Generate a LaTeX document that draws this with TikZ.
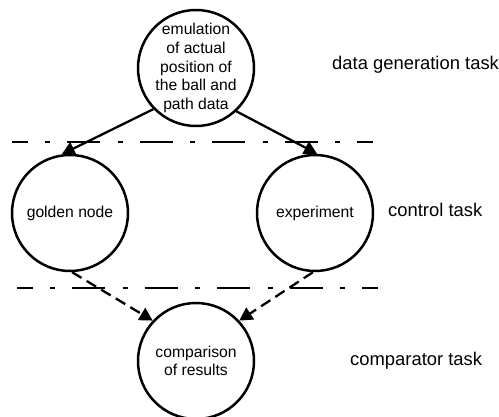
\documentclass[tikz,border=0pt]{standalone}
\usepackage{fontspec}
\setmainfont{Liberation Sans}
\usetikzlibrary{arrows.meta}
\begin{document}
\begin{tikzpicture}[x=1pt,y=-1pt,
  task/.style={circle,draw,line width=2.5pt,minimum size=116pt,inner sep=-8pt,
    align=center,font=\fontsize{15.7}{18.7}\selectfont},
  tasklabel/.style={anchor=base west,inner sep=0pt,font=\fontsize{18.4}{22}\selectfont},
  flow/.style={line width=2.3pt,-{Triangle[length=13pt,width=14pt]}},
  result/.style={flow,dash pattern=on 11pt off 6pt},
  divider/.style={line width=1.6pt,dash pattern=on 33pt off 17.5pt on 5pt off 17pt,dash phase=17.5pt}]
\useasboundingbox (0,0) rectangle (499,417);
\clip (0,0) rectangle (499,417);

% task nodes
\node[task] (emu) at (196,68) {emulation\\of actual\\position of\\the ball and\\path data};
\node[task] (golden) at (70,213) {golden node};
\node[task] (exper) at (315,213) {experiment};
\node[task] (cmp) at (196,361) {comparison\\of results};

% task level labels
\node[tasklabel] (lgen) at (332,70) {data generation task};
\node[tasklabel] (lctl) at (388,217) {control task};
\node[tasklabel] (lcmp) at (350,366) {comparator task};

% level dividers
\coordinate (d1a) at (12,142);
\coordinate (d1b) at (373,142);
\coordinate (d2a) at (17,288);
\coordinate (d2b) at (378,288);
\draw[divider] (d1a) -- (d1b);
\draw[divider] (d2a) -- (d2b);

% data flow
\draw[flow] (emu.224) -- (golden.98);
\draw[flow] (emu.313) -- (exper.88);
\draw[result] (golden.-88) -- (cmp.137);
\draw[result] (exper.-92) -- (cmp.43);
\end{tikzpicture}
\end{document}
